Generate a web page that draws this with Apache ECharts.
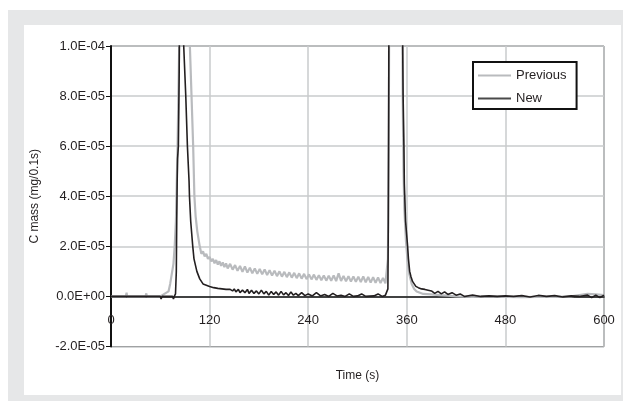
<!DOCTYPE html>
<html>
<head>
<meta charset="utf-8">
<script src="https://cdn.jsdelivr.net/npm/echarts@6/dist/echarts.min.js"></script>
<style>
  html, body { margin: 0; padding: 0; background: #ffffff; }
  #bg { position: absolute; left: 8px; top: 10px; width: 615px; height: 391px; background: #e6e7e8; }
  #panel { position: absolute; left: 24px; top: 25px; width: 597px; height: 370px; background: #ffffff; }
  #chart { position: absolute; left: 0; top: 0; width: 623px; height: 401px; }
</style>
</head>
<body>
<div id="bg"></div>
<div id="panel"></div>
<div id="chart"></div>
<script>
// ---- Data (time in s, C mass in mg/0.1s) ----
const seriesNames = ['Previous', 'New'];
const xTicks = [0, 120, 240, 360, 480, 600];
const yTicks = [-2e-5, 0, 2e-5, 4e-5, 6e-5, 8e-5, 1e-4];

const prevTime = [
  0, 18, 19, 19.5, 20, 42, 43, 43.5, 44, 60, 65, 70, 72, 74, 76, 77.5, 79, 80, 81, 82, 83, 84,
  90, 95, 96, 98, 100, 101.5, 103, 105, 108,
  110, 112, 114, 116, 118, 120, 122, 124, 126, 128, 130, 132, 134, 136, 138, 140, 142, 145, 148,
  151, 154, 157, 160, 163, 166, 169, 172, 175, 178, 181, 184, 187, 190, 193, 196, 199, 202, 205,
  208, 211, 214, 217, 220, 223, 226, 229, 232, 235, 238, 241, 244, 247, 250, 253, 256, 259, 262,
  265, 268, 271, 274, 277, 280, 283, 286, 289, 292, 295, 298, 301, 304, 307, 310, 313, 316, 319,
  322, 325, 328, 331, 334, 336,
  337, 338, 339, 345, 352, 354, 355, 356, 357, 359, 361, 363, 366, 369, 372, 376, 380, 390, 400,
  410, 420, 440, 460, 480, 500, 520, 540, 560, 570, 580, 590, 600
];
const prevValue = [
  0, 0, 0.15e-5, 0, 0, 0, 0.12e-5, 0, 0, 0, 0.1e-5, 0.2e-5, 0.5e-5, 0.9e-5, 1.3e-5, 2.0e-5, 3.0e-5, 4.5e-5, 6e-5, 8e-5, 10e-5, 14e-5,
  25e-5, 14e-5, 10e-5, 8e-5, 6e-5, 4e-5, 3.2e-5, 2.6e-5, 2.0e-5,
  1.7e-5, 1.8e-5, 1.6e-5, 1.7e-5, 1.5e-5, 1.58e-5, 1.4e-5, 1.5e-5, 1.32e-5, 1.45e-5, 1.27e-5, 1.4e-5, 1.22e-5, 1.36e-5, 1.17e-5, 1.32e-5, 1.12e-5, 1.3e-5, 1.07e-5,
  1.25e-5, 1.02e-5, 1.22e-5, 0.98e-5, 1.2e-5, 0.95e-5, 1.15e-5, 0.92e-5, 1.12e-5, 0.9e-5, 1.1e-5, 0.88e-5, 1.08e-5, 0.85e-5, 1.05e-5, 0.83e-5, 1.03e-5, 0.81e-5, 1.0e-5,
  0.79e-5, 0.98e-5, 0.77e-5, 0.96e-5, 0.75e-5, 0.94e-5, 0.73e-5, 0.92e-5, 0.71e-5, 0.9e-5, 0.69e-5, 0.88e-5, 0.68e-5, 0.87e-5, 0.66e-5, 0.85e-5, 0.65e-5, 0.84e-5, 0.63e-5,
  0.83e-5, 0.62e-5, 0.84e-5, 0.61e-5, 0.92e-5, 0.62e-5, 0.82e-5, 0.6e-5, 0.81e-5, 0.59e-5, 0.8e-5, 0.58e-5, 0.79e-5, 0.57e-5, 0.8e-5, 0.56e-5, 0.78e-5, 0.55e-5, 0.77e-5,
  0.54e-5, 0.76e-5, 0.53e-5, 0.74e-5, 0.52e-5, 0.55e-5,
  1.5e-5, 6e-5, 15e-5, 30e-5, 30e-5, 15e-5, 8e-5, 5e-5, 3.5e-5, 2.2e-5, 1.4e-5, 0.9e-5, 0.5e-5, 0.3e-5, 0.2e-5, 0.15e-5, 0.1e-5, 0.08e-5, 0.05e-5,
  0.03e-5, 0, -0.02e-5, 0, -0.02e-5, -0.03e-5, -0.02e-5, -0.02e-5, 0, 0.05e-5, 0.1e-5, 0.08e-5, 0.05e-5
];

const newTime = [
  0, 60, 61, 62, 75, 76, 77, 78.5, 79.5, 80, 80.5, 81, 82, 83, 83.5, 86, 88.5, 91, 93, 95, 95.5, 97, 99.5, 101,
  104.5, 108, 112, 120, 125, 130, 135, 140, 145, 148, 150, 152, 155, 157, 160, 163, 166, 168, 171,
  174, 177, 180, 183, 186, 189, 192, 195, 198, 201, 204, 207, 210, 213, 216, 219, 222, 225, 228,
  232, 236, 240, 245, 250, 255, 260, 265, 270, 275, 280, 285, 290, 295, 300, 305, 310, 320, 325,
  330, 334, 336, 337, 337.5, 338, 338.5, 345, 353, 354.5, 355.5, 356.5, 357, 358.5, 361, 362, 363.5,
  365, 367, 369, 371, 374, 378, 382, 386, 390, 394, 398, 402, 406, 410, 415, 420, 425, 430, 440,
  450, 460, 470, 480, 490, 500, 510, 520, 530, 540, 550, 560, 570, 580, 585, 590, 595, 600
];
const newValue = [
  0, 0, -0.1e-5, 0, 0, -0.1e-5, 0, 0.1e-5, 1.0e-5, 3e-5, 4.5e-5, 5.5e-5, 6e-5, 9e-5, 12e-5, 20e-5, 10e-5, 8e-5, 6e-5, 4.6e-5, 4.0e-5, 3.0e-5, 2.0e-5, 1.5e-5,
  1.0e-5, 0.7e-5, 0.5e-5, 0.4e-5, 0.35e-5, 0.32e-5, 0.3e-5, 0.28e-5, 0.28e-5, 0.22e-5, 0.3e-5, 0.18e-5, 0.28e-5, 0.15e-5, 0.25e-5, 0.15e-5, 0.28e-5, 0.12e-5, 0.25e-5,
  0.12e-5, 0.22e-5, 0.1e-5, 0.25e-5, 0.1e-5, 0.2e-5, 0.05e-5, 0.2e-5, 0.08e-5, 0.18e-5, 0.05e-5, 0.2e-5, 0.06e-5, 0.15e-5, 0.04e-5, 0.18e-5, 0.05e-5, 0.12e-5, 0.03e-5,
  0.15e-5, 0.03e-5, 0.1e-5, 0.02e-5, 0.15e-5, 0.02e-5, 0.08e-5, 0, 0.12e-5, 0.02e-5, 0.05e-5, 0, 0.1e-5, 0, 0.02e-5, 0.1e-5, 0, 0.02e-5, 0.1e-5,
  0, 0.05e-5, 0.1e-5, 0.3e-5, 3e-5, 8e-5, 15e-5, 30e-5, 30e-5, 12e-5, 8e-5, 6e-5, 4.5e-5, 3e-5, 2e-5, 1.5e-5, 1.0e-5,
  0.8e-5, 0.6e-5, 0.5e-5, 0.4e-5, 0.35e-5, 0.3e-5, 0.28e-5, 0.25e-5, 0.22e-5, 0.12e-5, 0.2e-5, 0.1e-5, 0.18e-5, 0.08e-5, 0.15e-5, 0.05e-5, 0.1e-5, 0, 0.05e-5,
  0, 0.02e-5, 0, 0.02e-5, 0, 0.03e-5, -0.02e-5, 0.04e-5, 0, 0.03e-5, -0.02e-5, 0.02e-5, 0, 0.05e-5, -0.05e-5, 0.05e-5, -0.05e-5, 0.05e-5
];

function pairs(t, v) { return t.map((x, i) => [x, v[i]]); }

function fmtSci(v) {
  if (Math.abs(v) < 1e-12) return '0.0E+00';
  const s = v.toExponential(1);
  const parts = s.split('e');
  const sign = parts[1][0];
  const d = parts[1].slice(1).padStart(2, '0');
  return parts[0] + 'E' + sign + d;
}

const textColor = '#231f20';
const font = 'Liberation Sans, Arial, sans-serif';
const prevColor = '#b9bbbe';
const newColor = '#231f20';
const chart = echarts.init(document.getElementById('chart'), null, { renderer: 'canvas' });
chart.setOption({
  animation: false,
  backgroundColor: 'transparent',
  grid: {
    left: 111, right: 19, top: 46, bottom: 54.5,
    outerBoundsMode: 'none', containLabel: false,
    show: true, borderColor: '#2b2b2b', borderWidth: 1, backgroundColor: 'transparent'
  },
  legend: {
    data: [
      { name: seriesNames[0], icon: 'rect', itemStyle: { color: prevColor } },
      { name: seriesNames[1], icon: 'rect', itemStyle: { color: '#4a4a4a' } }
    ],
    orient: 'vertical',
    left: 473, top: 62,
    itemWidth: 33, itemHeight: 2, itemGap: 10,
    padding: [7, 10, 4, 5],
    borderColor: '#111', borderWidth: 2,
    backgroundColor: '#fff',
    textStyle: { color: textColor, fontSize: 13, fontFamily: font, padding: [0, 0, 0, 0] }
  },
  xAxis: {
    type: 'value',
    min: xTicks[0], max: xTicks[xTicks.length - 1], interval: 120,
    name: 'Time (s)', nameLocation: 'middle', nameGap: 23,
    nameTextStyle: { color: textColor, fontSize: 12, fontFamily: font },
    axisLine: { onZero: true, lineStyle: { color: '#111', width: 1.5 } },
    axisTick: { show: false },
    axisLabel: { color: textColor, fontSize: 13, fontFamily: font, margin: -33 },
    splitLine: { show: true, lineStyle: { color: '#c9cbcd', width: 1.5 } }
  },
  yAxis: {
    type: 'value',
    min: yTicks[0], max: yTicks[yTicks.length - 1], interval: 2e-5,
    name: 'C mass (mg/0.1s)', nameLocation: 'middle', nameGap: 70,
    nameTextStyle: { color: textColor, fontSize: 12, fontFamily: font },
    axisLine: { show: true, lineStyle: { color: '#111', width: 2 } },
    axisTick: { show: true, inside: false, length: 5, lineStyle: { color: '#111', width: 1 } },
    axisLabel: { color: textColor, fontSize: 13, fontFamily: font, margin: 6, formatter: fmtSci },
    splitLine: { show: true, lineStyle: { color: '#c9cbcd', width: 1.5 } }
  },
  series: [
    {
      name: seriesNames[0], type: 'line', symbol: 'none', clip: true,
      data: pairs(prevTime, prevValue),
      lineStyle: { color: prevColor, width: 2.2 },
      itemStyle: { color: prevColor },
      z: 2
    },
    {
      name: seriesNames[1], type: 'line', symbol: 'none', clip: true,
      data: pairs(newTime, newValue),
      lineStyle: { color: newColor, width: 1.6 },
      itemStyle: { color: newColor },
      z: 3
    }
  ]
});
</script>
</body>
</html>
